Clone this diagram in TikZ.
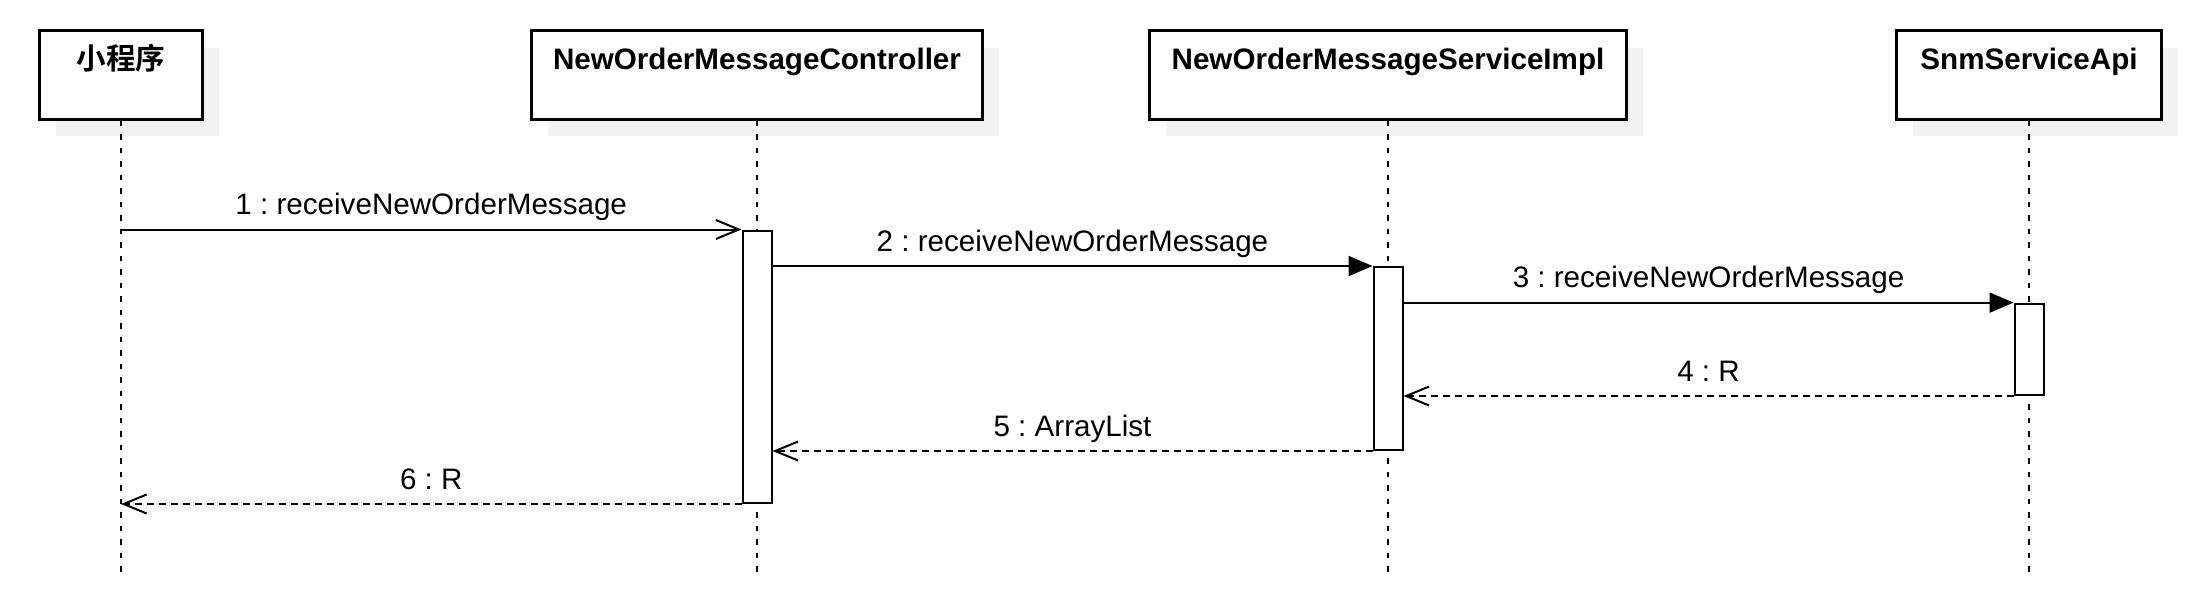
\documentclass[tikz,border=0pt]{standalone}
\usepackage{fontspec}
\setmainfont{Liberation Sans}
\newfontfamily\cjk{Noto Sans CJK SC}[BoldFont={Noto Sans CJK SC Bold}]
\usetikzlibrary{arrows.meta,shadows,positioning}
\frenchspacing

\begin{document}
\begin{tikzpicture}[x=0.5pt,y=-0.5pt]
\tikzstyle{actor}=[rectangle, draw=black, line width=1.4pt, fill=white, minimum height=44.25pt, inner sep=0pt, text height=19.5pt, text depth=24.75pt, font=\fontsize{14.8}{17}\selectfont\bfseries, drop shadow={fill=black!5, opacity=1, shadow xshift=8pt, shadow yshift=-8.5pt}]
\tikzstyle{life}=[line width=1pt, dash pattern=on 2.75pt off 4pt]
\tikzstyle{bar}=[rectangle, draw=black, line width=1pt, fill=white, minimum width=14.5pt, inner sep=0pt]
\tikzstyle{call}=[line width=1pt, -{Triangle[length=12pt,width=10pt]}]
\tikzstyle{async}=[line width=1pt, -{Straight Barb[length=11.5pt,width=9.5pt]}]
\tikzstyle{reply}=[line width=1pt, dash pattern=on 3.5pt off 2.5pt, -{Straight Barb[length=11.5pt,width=9.5pt]}]
\tikzstyle{msg}=[font=\fontsize{14.8}{17}\selectfont, anchor=base, midway, yshift=7.5pt]
\useasboundingbox (0,0) rectangle (2204,600);
  \node[actor, minimum width=81.5pt] (app) at (121,75) {\cjk\bfseries 小程序};
  \node[actor, minimum width=225.5pt] (ctrl) at (757,75) {NewOrderMessageController};
  \node[actor, minimum width=238.5pt] (svc) at (1388,75) {NewOrderMessageServiceImpl};
  \node[actor, minimum width=132.5pt] (api) at (2029,75) {SnmServiceApi};
  % lifelines
  \coordinate (append) at (121,576);
  \coordinate (ctrlend) at (757,576);
  \coordinate (svcend) at (1388,576);
  \coordinate (apiend) at (2029,576);
  \draw[life] (app.south) -- (append);
  \draw[life] (ctrl.south) -- (ctrlend);
  \draw[life] (svc.south) -- (svcend);
  \draw[life] (api.south) -- (apiend);
  % activations
  \node[bar, minimum height=136.25pt] (ctrlbar) at (757,366.75) {};
  \node[bar, minimum height=91.5pt] (svcbar) at (1388,358.5) {};
  \node[bar, minimum height=45.7pt] (apibar) at (2029,349.3) {};
  % messages
  \draw[async] (app.south |- ctrlbar.north) -- node[msg]{1 : receiveNewOrderMessage} (ctrlbar.north west);
  \draw[call] (ctrlbar.east |- svcbar.north) -- node[msg]{2 : receiveNewOrderMessage} (svcbar.north west);
  \draw[call] (svcbar.east |- apibar.north) -- node[msg]{3 : receiveNewOrderMessage} (apibar.north west);
  \draw[reply] (apibar.south west) -- node[msg]{4 : R} (svcbar.east |- apibar.south);
  \draw[reply] (svcbar.south west) -- node[msg]{5 : ArrayList} (ctrlbar.east |- svcbar.south);
  \draw[reply] (ctrlbar.south west) -- node[msg]{6 : R} (app.south |- ctrlbar.south);
\end{tikzpicture}
\end{document}
